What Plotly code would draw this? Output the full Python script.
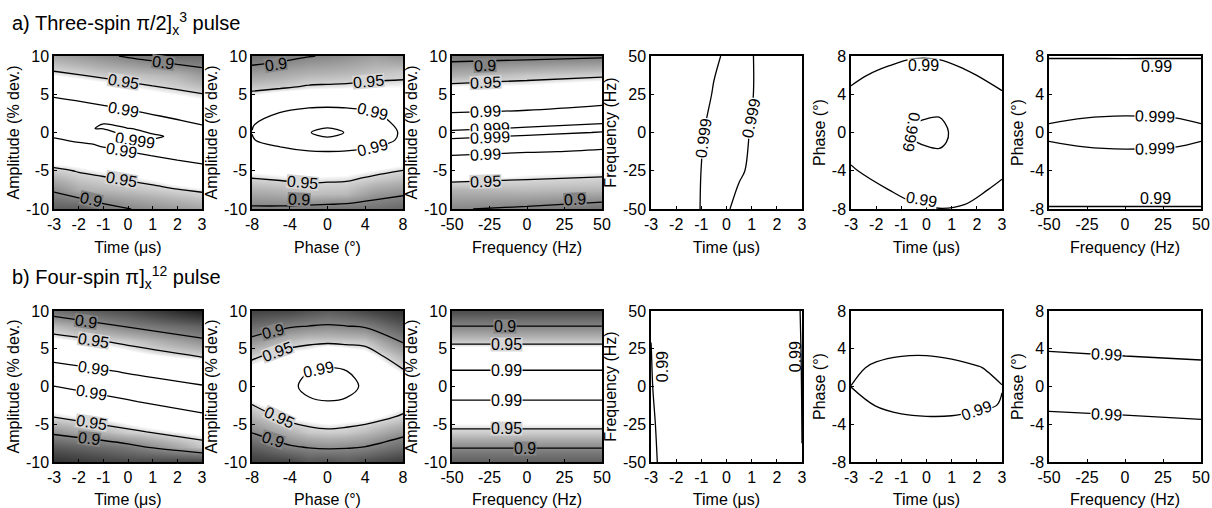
import plotly.graph_objects as go

FONT = "Liberation Sans, Arial, sans-serif"
LEVELS = [0.9, 0.95, 0.99, 0.999]

time_ticks = [-3, -2, -1, 0, 1, 2, 3]
amp_ticks = [-10, -5, 0, 5, 10]
phase_ticks = [-8, -4, 0, 4, 8]
freq_ticks = [-50, -25, 0, 25, 50]

TIME_LABEL = "Time (μs)"
AMP_LABEL = "Amplitude (% dev.)"
PHASE_LABEL = "Phase (°)"
FREQ_LABEL = "Frequency (Hz)"

# ---------------- a) three-spin pi/2 pulse ----------------
# fidelity is stored column by column (one list per x value, listed bottom to top)
a1_time = [-3, -2, -1, 0, 1, 2, 3]
a1_amp = [-10, -7.5, -5, -3, -1.5, -0.5, 0.5, 1.5, 3, 5, 7.5, 10]
a1_fidelity = [
    [0.865, 0.9047, 0.9434, 0.9764, 0.9852, 0.9912, 0.9942, 0.9959, 0.9950, 0.98875, 0.9569, 0.9229],
    [0.8642, 0.9259, 0.9521, 0.9726, 0.98838, 0.9965, 0.9989, 0.99888, 0.9955, 0.9855, 0.9511, 0.9147],
    [0.8876, 0.9318, 0.9578, 0.98588, 0.9915, 0.9960, 0.99905, 0.99897, 0.9935, 0.98077, 0.9441, 0.906],
    [0.899, 0.9374, 0.9637, 0.98725, 0.9955, 0.99905, 0.99913, 0.99653, 0.9899, 0.9678, 0.9400, 0.8965],
    [0.9069, 0.9428, 0.9705, 0.9905, 0.99835, 0.9993, 0.99835, 0.9945, 0.98656, 0.9617, 0.9351, 0.8877],
    [0.9139, 0.9487, 0.9818, 0.9935, 0.9986, 0.99863, 0.9972, 0.9912, 0.9822, 0.9562, 0.9304, 0.8761],
    [0.9208, 0.9542, 0.98714, 0.9935, 0.9962, 0.9950, 0.9930, 0.987, 0.9705, 0.951, 0.9147, 0.8775],
]

a2_phase = [-8, -5, -2, 0, 2, 5, 8]
a2_amp = [-10, -8, -6, -4, -2.5, -1, 0, 1, 2.5, 4, 6, 8, 10]
a2_fidelity = [
    [0.8945, 0.9219, 0.9498, 0.972, 0.9831, 0.9893, 0.9902, 0.9895, 0.9816, 0.9681, 0.9422, 0.9118, 0.882],
    [0.8937, 0.9254, 0.9539, 0.9714, 0.98648, 0.995, 0.9965, 0.9955, 0.9905, 0.9863, 0.9448, 0.9183, 0.8895],
    [0.8878, 0.9367, 0.9557, 0.9748, 0.9895, 0.998, 0.9989, 0.998, 0.994, 0.98554, 0.9527, 0.9257, 0.8986],
    [0.885, 0.935, 0.955, 0.975, 0.9899, 0.9986, 0.9996, 0.9986, 0.9945, 0.98606, 0.954, 0.9273, 0.9025],
    [0.8817, 0.934, 0.954, 0.974, 0.9895, 0.998, 0.9989, 0.998, 0.994, 0.98554, 0.955, 0.93, 0.907],
    [0.881, 0.9125, 0.9457, 0.9672, 0.98648, 0.995, 0.9965, 0.9955, 0.9905, 0.9863, 0.957, 0.937, 0.918],
    [0.871, 0.9045, 0.9376, 0.9612, 0.976, 0.988, 0.9885, 0.987, 0.983, 0.9708, 0.957, 0.9414, 0.9083],
]

a3_freq = [-50, 0, 50]
a3_amp = [-10, -7.5, -5, -2.5, -1, 0, 0.5, 1.5, 2.5, 5, 7.5, 10]
a3_fidelity = [
    [0.9022, 0.93, 0.98, 0.9925, 0.99894, 0.99925, 0.9988, 0.997, 0.9905, 0.978, 0.928, 0.888],
    [0.8944, 0.9347, 0.963, 0.9912, 0.99849, 0.9993, 0.99915, 0.9984, 0.9935, 0.972, 0.9414, 0.8897],
    [0.8825, 0.9311, 0.9589, 0.98825, 0.997, 0.99895, 0.9993, 0.99884, 0.9955, 0.9824, 0.9464, 0.8948],
]

a4_time = [-3, -1.5, -0.5, 0.5, 1.5, 3]
a4_freq = [-50, -25, 0, 25, 50]
a4_fidelity = [
    [0.994, 0.9935, 0.993, 0.9925, 0.9915],
    [0.99851, 0.99862, 0.99837, 0.99779, 0.9965],
    [0.9996, 0.9994, 0.9994, 0.99912, 0.99878],
    [0.99866, 0.99915, 0.9994, 0.9995, 0.9996],
    [0.9965, 0.9985, 0.99842, 0.99862, 0.99855],
    [0.9915, 0.9925, 0.993, 0.9935, 0.9935],
]

a5_time = [-3, -1.5, -0.5, 0.5, 1.5, 3]
a5_phase = [-8, -6, -4, -2.5, -1, 0, 1, 2.5, 4, 6, 8]
a5_fidelity = [
    [0.97875, 0.98466, 0.98907, 0.99136, 0.9928, 0.99328, 0.99339, 0.99284, 0.99143, 0.98823, 0.9835],
    [0.98453, 0.98998, 0.99415, 0.99624, 0.99748, 0.99785, 0.99785, 0.99716, 0.99563, 0.9923, 0.98749],
    [0.98847, 0.99313, 0.99646, 0.99809, 0.99896, 0.99913, 0.99898, 0.99818, 0.9967, 0.99366, 0.9894],
    [0.98984, 0.99406, 0.99708, 0.99856, 0.99935, 0.9995, 0.99934, 0.99849, 0.9969, 0.9937, 0.98913],
    [0.98905, 0.99326, 0.99618, 0.99753, 0.99815, 0.99817, 0.99786, 0.9968, 0.99502, 0.99152, 0.98674],
    [0.98288, 0.988, 0.99159, 0.99329, 0.99413, 0.99422, 0.99392, 0.99277, 0.99077, 0.98676, 0.98123],
]

a6_freq = [-50, -25, 0, 25, 50]
a6_phase = [-8, -7, -4, -1.5, -0.5, 0.5, 1.5, 4, 7, 8]
a6_fidelity = [
    [0.9894, 0.99168, 0.9967, 0.99888, 0.99909, 0.99909, 0.99888, 0.9967, 0.99168, 0.9894],
    [0.98939, 0.99173, 0.99687, 0.99902, 0.99933, 0.99933, 0.99902, 0.99687, 0.99173, 0.98939],
    [0.98937, 0.99175, 0.9975, 0.99916, 0.99948, 0.99948, 0.99916, 0.9975, 0.99175, 0.98937],
    [0.98938, 0.99174, 0.9972, 0.99908, 0.99939, 0.99939, 0.99908, 0.9972, 0.99174, 0.98938],
    [0.9894, 0.99168, 0.9967, 0.99886, 0.9991, 0.9991, 0.99886, 0.9967, 0.99168, 0.9894],
]

# ---------------- b) four-spin pi pulse ----------------
b1_time = [-3, 0, 3]
b1_amp = [-10, -8, -6, -4, -2, 0, 2, 4, 6, 8, 10]
b1_fidelity = [
    [0.82, 0.86, 0.9087, 0.951, 0.9702, 0.98988, 0.9948, 0.9868, 0.963, 0.935, 0.8812],
    [0.845, 0.8885, 0.9459, 0.9666, 0.98929, 0.995, 0.98912, 0.9655, 0.9441, 0.8964, 0.85],
    [0.84, 0.94, 0.9622, 0.9884, 0.9948, 0.9905, 0.9855, 0.9481, 0.908, 0.868, 0.80],
]

b2_phase = [-8, -4, -2, 0, 2, 4, 8]
b2_amp = [-10, -8, -6, -4, -2, 0, 2, 4, 6, 8, 10]
b2_fidelity = [
    [0.83, 0.864, 0.9026, 0.93, 0.955, 0.9693, 0.9652, 0.9449, 0.9097, 0.8774, 0.84],
    [0.84, 0.896, 0.9303, 0.9609, 0.9799, 0.98738, 0.983, 0.9661, 0.9368, 0.8958, 0.845],
    [0.858, 0.9026, 0.9429, 0.9632, 0.98849, 0.9932, 0.98993, 0.967, 0.9443, 0.9003, 0.855],
    [0.852, 0.9071, 0.9457, 0.9673, 0.98975, 0.9948, 0.9915, 0.9855, 0.9437, 0.904, 0.864],
    [0.86, 0.9044, 0.9439, 0.9642, 0.98874, 0.9935, 0.9905, 0.9762, 0.9424, 0.9003, 0.858],
    [0.85, 0.8995, 0.9361, 0.9641, 0.9815, 0.98812, 0.9842, 0.9682, 0.9404, 0.8958, 0.845],
    [0.83, 0.876, 0.9125, 0.9465, 0.9642, 0.9671, 0.9535, 0.9302, 0.8966, 0.86, 0.82],
]

b3_freq = [-50, 0, 50]
b3_amp = [-10, -8, -6, -4, -2, 0, 2, 4, 6, 8, 10]
b3_fidelity = [
    [0.8642, 0.9029, 0.9458, 0.9668, 0.98944, 0.995, 0.9905, 0.9838, 0.9416, 0.8998, 0.85],
    [0.8642, 0.9029, 0.9458, 0.9668, 0.98944, 0.995, 0.9905, 0.9838, 0.9416, 0.8998, 0.85],
    [0.8642, 0.9029, 0.9458, 0.9668, 0.98944, 0.995, 0.9905, 0.9838, 0.9416, 0.8998, 0.85],
]

b4_time = [-3, -2.5, 0, 2.5, 3]
b4_freq = [-50, -25, 0, 25, 50]
b4_fidelity = [
    [0.9875, 0.9885, 0.9895, 0.9899, 0.9905],
    [0.9925, 0.9928, 0.9932, 0.9936, 0.994],
    [0.997, 0.997, 0.997, 0.997, 0.997],
    [0.994, 0.9938, 0.9936, 0.9934, 0.9932],
    [0.99005, 0.98995, 0.98985, 0.9897, 0.98943],
]

b5_time = [-3, -2, -1, 0, 1, 2, 3]
b5_phase = [-8, -6, -4, -2, 0, 2, 4, 6, 8]
b5_fidelity = [
    [0.958, 0.972, 0.982, 0.9875, 0.99008, 0.9885, 0.984, 0.975, 0.962],
    [0.961, 0.975, 0.98601, 0.99021, 0.99247, 0.99111, 0.98741, 0.977, 0.963],
    [0.963, 0.977, 0.9873, 0.99221, 0.9944, 0.9928, 0.9881, 0.978, 0.965],
    [0.9638, 0.9774, 0.9878, 0.99305, 0.995, 0.99316, 0.9882, 0.9785, 0.9656],
    [0.965, 0.978, 0.98784, 0.99264, 0.9944, 0.99224, 0.98726, 0.977, 0.964],
    [0.963, 0.977, 0.98743, 0.9911, 0.99248, 0.9904, 0.9864, 0.976, 0.962],
    [0.958, 0.972, 0.9825, 0.9897, 0.99015, 0.9885, 0.983, 0.974, 0.961],
]

b6_freq = [-50, 0, 50]
b6_phase = [-8, -6, -4, -2, 0, 2, 4, 6, 8]
b6_fidelity = [
    [0.96124, 0.97524, 0.9855, 0.99205, 0.99487, 0.99398, 0.98937, 0.98105, 0.96898],
    [0.9645, 0.9777, 0.98719, 0.99295, 0.995, 0.99332, 0.98793, 0.97882, 0.96598],
    [0.96757, 0.98, 0.9887, 0.99369, 0.99495, 0.9925, 0.98632, 0.97643, 0.96282],
]

# (x, y, fidelity, x title, y title, x ticks, y ticks)
panels = [
    (a1_time, a1_amp, a1_fidelity, TIME_LABEL, AMP_LABEL, time_ticks, amp_ticks),
    (a2_phase, a2_amp, a2_fidelity, PHASE_LABEL, AMP_LABEL, phase_ticks, amp_ticks),
    (a3_freq, a3_amp, a3_fidelity, FREQ_LABEL, AMP_LABEL, freq_ticks, amp_ticks),
    (a4_time, a4_freq, a4_fidelity, TIME_LABEL, FREQ_LABEL, time_ticks, freq_ticks),
    (a5_time, a5_phase, a5_fidelity, TIME_LABEL, PHASE_LABEL, time_ticks, phase_ticks),
    (a6_freq, a6_phase, a6_fidelity, FREQ_LABEL, PHASE_LABEL, freq_ticks, phase_ticks),
    (b1_time, b1_amp, b1_fidelity, TIME_LABEL, AMP_LABEL, time_ticks, amp_ticks),
    (b2_phase, b2_amp, b2_fidelity, PHASE_LABEL, AMP_LABEL, phase_ticks, amp_ticks),
    (b3_freq, b3_amp, b3_fidelity, FREQ_LABEL, AMP_LABEL, freq_ticks, amp_ticks),
    (b4_time, b4_freq, b4_fidelity, TIME_LABEL, FREQ_LABEL, time_ticks, freq_ticks),
    (b5_time, b5_phase, b5_fidelity, TIME_LABEL, PHASE_LABEL, time_ticks, phase_ticks),
    (b6_freq, b6_phase, b6_fidelity, FREQ_LABEL, PHASE_LABEL, freq_ticks, phase_ticks),
]

# inline contour labels: (panel number, level, x, y, text angle, boxed)
contour_labels = [
    (1, 0.9, 1.4, 9.1, 8, True), (1, 0.95, -0.2, 6.7, 9, True),
    (1, 0.99, -0.2, 3.05, 10.5, True), (1, 0.999, 0.3, -1.05, 8, True),
    (1, 0.99, -0.25, -2.35, 10, True), (1, 0.95, -0.25, -6.15, 10, True),
    (1, 0.9, -1.5, -8.8, 13, True),
    (2, 0.9, -5.5, 8.85, -8, True), (2, 0.95, 4.3, 6.63, -5, True),
    (2, 0.99, 4.8, 2.72, 14, True), (2, 0.99, 4.8, -1.92, -14, True),
    (2, 0.95, -2.6, -6.55, 5, True), (2, 0.9, -3.0, -8.8, 3, True),
    (3, 0.9, -28, 8.8, -2, True), (3, 0.95, -28, 6.58, -2.5, True),
    (3, 0.99, -28, 2.74, -2.8, True), (3, 0.999, -25, 0.48, -2.5, True),
    (3, 0.999, -25, -0.6, -2.5, True), (3, 0.99, -28, -2.83, -2.5, True),
    (3, 0.95, -28, -6.35, -2, True), (3, 0.9, 32, -8.8, -3, True),
    (4, 0.999, -0.91, -4, -82, True), (4, 0.999, 0.97, 9.3, -78, True),
    (5, 0.99, -0.1, 7.0, 0, True), (5, 0.999, -0.6, 0, 100, True),
    (5, 0.99, -0.2, -7.0, 10, True),
    (6, 0.99, 21, 6.9, 0, False), (6, 0.999, 20, 1.64, 2, True),
    (6, 0.999, 20, -1.64, -2, True), (6, 0.99, 20, -6.9, 0, False),
    (7, 0.9, -1.7, 8.66, 8.4, True), (7, 0.95, -1.4, 6.14, 8.5, True),
    (7, 0.99, -1.4, 2.4, 8.7, True), (7, 0.99, -1.5, -0.85, 10, True),
    (7, 0.95, -1.5, -4.83, 9, True), (7, 0.9, -1.6, -6.94, 7, True),
    (8, 0.9, -5.8, 7.26, -15, True), (8, 0.95, -5.25, 4.6, -20, True),
    (8, 0.99, -1.0, 2.2, -12, True), (8, 0.95, -5.1, -4.05, 25, True),
    (8, 0.9, -5.8, -6.97, 18, True),
    (9, 0.9, -15, 7.99, 0, True), (9, 0.95, -14, 5.6, 0, True),
    (9, 0.99, -14, 2.15, 0, True), (9, 0.99, -14, -1.8, 0, True),
    (9, 0.95, -14, -5.6, 0, True), (9, 0.9, -1.6, -8.15, 0, True),
    (10, 0.99, -2.51, 13, -90, False), (10, 0.99, 2.72, 20, -90, False),
    (11, 0.99, 2.0, -2.55, -20, True),
    (12, 0.99, -12, 3.35, 3, True), (12, 0.99, -12, -2.93, 3, True),
]

W, H = 1212, 508
col_px = [(54, 202), (252, 403), (452, 602), (651, 802), (851, 1002), (1049, 1201)]
row_px = [(56, 209), (311, 462)]

ZMIN, ZMAX = 0.8, 1.0
GREYS = [
    [0.0, "#1e1e1e"], [0.25, "#4e4e4e"], [0.5, "#858585"], [0.65, "#b2b2b2"],
    [0.75, "#d6d6d6"], [0.79, "#ffffff"], [1.0, "#ffffff"],
]


def shade_at(level):
    """Grey of the shading scale at a given fidelity (used behind inline labels)."""
    t = min(max((level - ZMIN) / (ZMAX - ZMIN), 0.0), 1.0)
    for (t0, c0), (t1, c1) in zip(GREYS[:-1], GREYS[1:]):
        if t0 <= t <= t1:
            f = 0.0 if t1 == t0 else (t - t0) / (t1 - t0)
            v0, v1 = int(c0[1:3], 16), int(c1[1:3], 16)
            v = round(v0 + f * (v1 - v0))
            return f"rgb({v},{v},{v})"
    return "white"


fig = go.Figure()
layout = {}
for i, (xv, yv, fid, xt, yt, xticks, yticks) in enumerate(panels):
    n = i + 1
    xa, ya = ("x", "y") if n == 1 else (f"x{n}", f"y{n}")
    r, c = divmod(i, 6)
    x0, x1 = col_px[c]
    y0, y1 = row_px[r]

    fig.add_trace(go.Heatmap(
        x=xv, y=yv, z=fid, transpose=True, zsmooth="best",
        zmin=ZMIN, zmax=ZMAX, colorscale=GREYS, showscale=False,
        hoverinfo="skip", xaxis=xa, yaxis=ya,
    ))
    for lev in LEVELS:
        fig.add_trace(go.Contour(
            x=xv, y=yv, z=fid, transpose=True, autocontour=False,
            contours=dict(start=lev, end=lev, size=0.001, coloring="none", showlabels=False),
            line=dict(color="black", width=1.3, smoothing=1.0),
            showscale=False, hoverinfo="skip", xaxis=xa, yaxis=ya,
        ))

    common = dict(showline=True, mirror=True, linecolor="black", linewidth=1.5,
                  showgrid=False, zeroline=False, ticks="inside", ticklen=3,
                  tickcolor="black", automargin=False,
                  tickfont=dict(family=FONT, size=16, color="black"))
    layout[f"xaxis{'' if n == 1 else n}"] = dict(
        domain=[x0 / W, x1 / W], anchor=ya, range=[min(xv), max(xv)],
        tickvals=xticks, ticktext=[str(v) for v in xticks],
        title=dict(text=xt, font=dict(family=FONT, size=16, color="black"), standoff=10),
        **common,
    )
    layout[f"yaxis{'' if n == 1 else n}"] = dict(
        domain=[1 - y1 / H, 1 - y0 / H], anchor=xa, range=[min(yv), max(yv)],
        tickvals=yticks, ticktext=[str(v) for v in yticks],
        title=dict(text=yt, font=dict(family=FONT, size=16, color="black"), standoff=2),
        **common,
    )

annotations = [
    dict(text="a) Three-spin π/2]<sub>x</sub><sup>3</sup> pulse", x=10 / W, y=1 - 23 / H,
         xref="paper", yref="paper", xanchor="left", yanchor="middle",
         showarrow=False, font=dict(family=FONT, size=20, color="black")),
    dict(text="b) Four-spin π]<sub>x</sub><sup>12</sup> pulse", x=10 / W, y=1 - 277 / H,
         xref="paper", yref="paper", xanchor="left", yanchor="middle",
         showarrow=False, font=dict(family=FONT, size=20, color="black")),
]
for n, lev, lx, ly, ang, boxed in contour_labels:
    sfx = "" if n == 1 else str(n)
    lab = dict(
        text=f"{lev:g}", x=lx, y=ly, xref=f"x{sfx}", yref=f"y{sfx}",
        xanchor="center", yanchor="middle", showarrow=False, textangle=ang,
        borderpad=0, font=dict(family=FONT, size=16, color="black"),
    )
    if boxed:
        # a tight box in the local shade hides the contour line under the text
        lab.update(bgcolor=shade_at(lev), height=13, valign="middle")
    annotations.append(lab)

fig.update_layout(
    width=W, height=H, margin=dict(l=0, r=0, t=0, b=0, autoexpand=False),
    paper_bgcolor="white", plot_bgcolor="white", showlegend=False,
    font=dict(family=FONT, color="black"),
    annotations=annotations,
    **layout,
)

fig.write_html("out.html")
